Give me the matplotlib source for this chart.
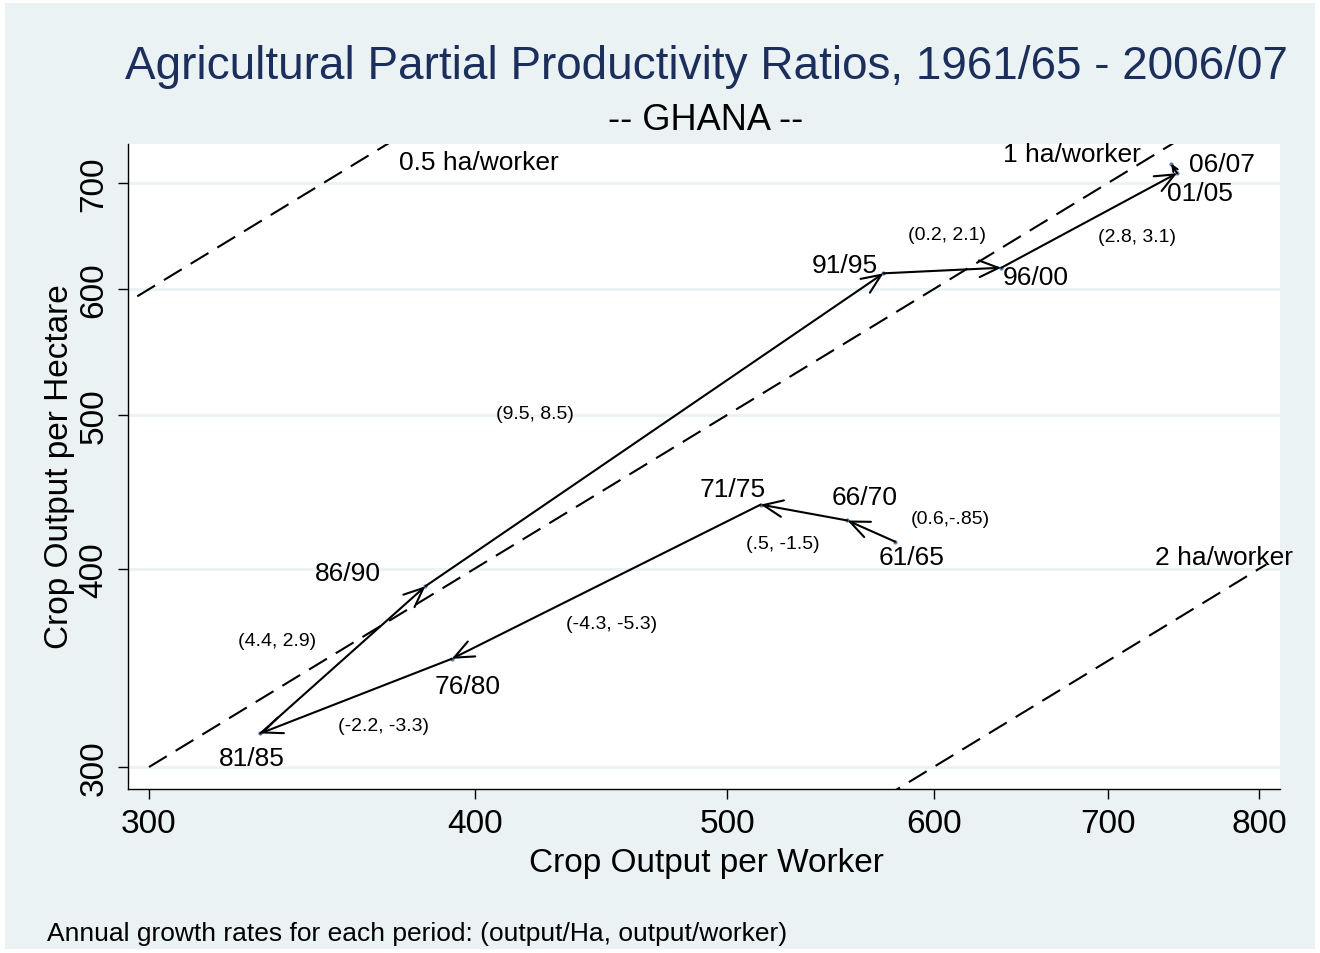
import numpy as np
import matplotlib
matplotlib.use("Agg")
import matplotlib.pyplot as plt
from matplotlib.patches import Rectangle

plt.rcParams['font.family'] = ['Liberation Sans', 'DejaVu Sans']

# datos: producto por trabajador (x) y por hectarea (y)
periodos = ['61/65', '66/70', '71/75', '76/80', '81/85', '86/90', '91/95', '96/00', '01/05', '06/07']
prod_trabajador = [580, 556, 515, 392, 331, 383, 574, 637, 744, 740]
prod_hectarea = [416, 429, 439, 351, 315, 390, 614, 619, 710, 720]

# tasas anuales de crecimiento por tramo (output/Ha, output/worker)
tasas = ['(0.6,-.85)', '(.5, -1.5)', '(-4.3, -5.3)', '(-2.2, -3.3)',
         '(4.4, 2.9)', '(9.5, 8.5)', '(0.2, 2.1)', '(2.8, 3.1)']

# lineas de hectareas por trabajador
ha_trabajador = [0.5, 1, 2]
ha_etiquetas = ['0.5 ha/worker', '1 ha/worker', '2 ha/worker']
ha_rango_x = [(290, 400), (300, 800), (560, 805)]

x_ticks = [300, 400, 500, 600, 700, 800]
y_ticks = [300, 400, 500, 600, 700]

# desplazamientos de etiquetas (pixeles)
off_periodo = [(16, -15), (17, 23), (-28, 16), (16, -27), (-8, -25),
               (-78, 13), (-39, 8), (34, -9), (23, -20), (51, 0)]
off_tasa = [(79, 13), (-21, -31), (5, -42), (28, -29), (-66, 19),
            (-120, 16), (5, 36), (48, -16)]

W, H = 1320, 954
fig = plt.figure(figsize=(W / 100, H / 100), dpi=100, facecolor='white')
fig.patches.append(Rectangle((5 / W, 4 / H), 1310 / W, 946 / H, transform=fig.transFigure,
                             facecolor='#EAF2F3', edgecolor='none', zorder=-10))

ax = fig.add_axes([128 / W, 1 - 790 / H, (1280 - 128) / W, (790 - 145) / H])
ax.set_facecolor('white')
ax.set_xscale('log')
ax.set_yscale('log')
ax.set_xlim(294.5, 814.8)
ax.set_ylim(290.6, 740.7)

ax.set_xticks(x_ticks)
ax.set_xticklabels([str(v) for v in x_ticks])
ax.set_yticks(y_ticks)
ax.set_yticklabels([str(v) for v in y_ticks], rotation=90, va='center')
ax.xaxis.set_minor_locator(matplotlib.ticker.NullLocator())
ax.yaxis.set_minor_locator(matplotlib.ticker.NullLocator())
ax.tick_params(axis='both', direction='out', length=7.5, width=1, labelsize=24, pad=6)
ax.tick_params(axis='y', pad=6)

for v in y_ticks:
    ax.axhline(v, color='#EAF2F3', lw=2, zorder=0)

for s in ['top', 'right']:
    ax.spines[s].set_visible(False)
for s in ['left', 'bottom']:
    ax.spines[s].set_linewidth(1)

# lineas discontinuas
for r, (x0, x1) in zip(ha_trabajador, ha_rango_x):
    xs = np.array([x0, x1])
    ax.plot(xs, xs / r, color='black', lw=1.5, dashes=(10, 5), zorder=2)

# puntos y flechas
ax.plot(prod_trabajador, prod_hectarea, 'o', ms=2, color='#5a7fa8', zorder=3)
n = len(periodos)
for i in range(n - 1):
    # el ultimo tramo es muy corto: punta pequeña
    escala = 6 if i == n - 2 else 20
    ax.annotate('', xy=(prod_trabajador[i + 1], prod_hectarea[i + 1]),
                xytext=(prod_trabajador[i], prod_hectarea[i]),
                arrowprops=dict(arrowstyle='->,head_length=0.7,head_width=0.3',
                                lw=1.5, color='black', shrinkA=0, shrinkB=0,
                                mutation_scale=escala), zorder=4)

for p, x, y, off in zip(periodos, prod_trabajador, prod_hectarea, off_periodo):
    ax.annotate(p, xy=(x, y), xytext=off, textcoords='offset pixels',
                ha='center', va='center', fontsize=19)

for i, t in enumerate(tasas):
    xm = np.sqrt(prod_trabajador[i] * prod_trabajador[i + 1])
    ym = np.sqrt(prod_hectarea[i] * prod_hectarea[i + 1])
    ax.annotate(t, xy=(xm, ym), xytext=off_tasa[i], textcoords='offset pixels',
                ha='center', va='center', fontsize=14)

# etiquetas de las lineas de ha/worker
fig.text(399 / W, 1 - 163 / H, ha_etiquetas[0], ha='left', va='center', fontsize=19)
fig.text(1141 / W, 1 - 155 / H, ha_etiquetas[1], ha='right', va='center', fontsize=19)
fig.text(1293 / W, 1 - 558 / H, ha_etiquetas[2], ha='right', va='center', fontsize=19)

fig.text(706 / W, 1 - 67 / H, 'Agricultural Partial Productivity Ratios, 1961/65 - 2006/07',
         ha='center', va='center', fontsize=33, color='#1c2f5c')
fig.text(706 / W, 1 - 121 / H, '-- GHANA --', ha='center', va='center', fontsize=26)
fig.text(706 / W, 1 - 864 / H, 'Crop Output per Worker', ha='center', va='center', fontsize=24)
fig.text(60 / W, 1 - 467 / H, 'Crop Output per Hectare', ha='center', va='center',
         fontsize=24, rotation=90)
fig.text(47 / W, 1 - 934 / H, 'Annual growth rates for each period: (output/Ha, output/worker)',
         ha='left', va='center', fontsize=19)

fig.savefig('out.png', dpi=100, facecolor=fig.get_facecolor())
